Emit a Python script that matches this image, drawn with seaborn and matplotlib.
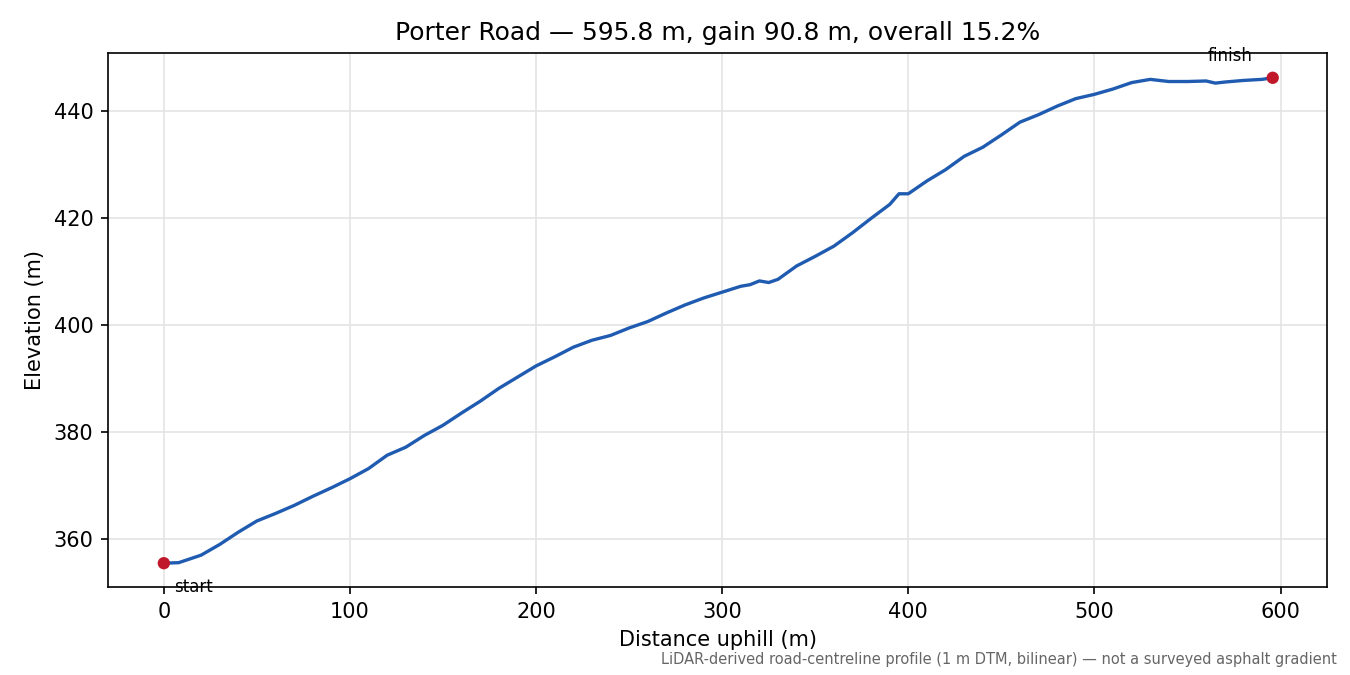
import numpy as np
import pandas as pd
import matplotlib
matplotlib.use('Agg')
import matplotlib.pyplot as plt
import seaborn as sns

# Profile (distance m, elevation m)
distance = [0, 8, 20, 30, 40, 50, 60, 70, 80, 90, 100, 110, 120, 130, 140, 150,
            160, 170, 180, 190, 200, 210, 220, 230, 240, 250, 260, 270, 280, 290,
            300, 310, 315, 320, 325, 330, 340, 350, 360, 370, 380, 390, 395, 400,
            410, 420, 430, 440, 450, 460, 470, 480, 490, 500, 510, 520, 530, 540,
            550, 560, 565, 570, 580, 590, 595.8]
elevation = [355.5, 355.6, 357.0, 359.0, 361.3, 363.4, 364.8, 366.3, 368.0, 369.6,
             371.3, 373.2, 375.7, 377.2, 379.4, 381.3, 383.6, 385.8, 388.2, 390.3,
             392.4, 394.1, 395.9, 397.2, 398.1, 399.5, 400.7, 402.3, 403.8, 405.1,
             406.2, 407.3, 407.6, 408.3, 408.0, 408.6, 411.1, 412.9, 414.8, 417.3,
             420.0, 422.6, 424.6, 424.6, 427.0, 429.1, 431.6, 433.3, 435.6, 438.0,
             439.4, 441.0, 442.4, 443.2, 444.2, 445.4, 446.0, 445.6, 445.6, 445.7,
             445.3, 445.5, 445.8, 446.0, 446.3]

df = pd.DataFrame({'distance': distance, 'elevation': elevation})
total = distance[-1]
gain = elevation[-1] - elevation[0]

plt.rcParams['font.family'] = ['DejaVu Sans']

fig, ax = plt.subplots(figsize=(9, 4.5), dpi=150)
sns.lineplot(data=df, x='distance', y='elevation', ax=ax, color='#1f5bb0', linewidth=1.6)
ends = df.iloc[[0, -1]]
sns.scatterplot(data=ends, x='distance', y='elevation', ax=ax, color='#c0182a',
                s=35, zorder=5, edgecolor='none')
ax.annotate('start', (distance[0], elevation[0]), xytext=(5, -14),
            textcoords='offset points', fontsize=8)
ax.annotate('finish', (distance[-1], elevation[-1]), xytext=(-31, 8),
            textcoords='offset points', fontsize=8)

ax.set_xlim(-30, 625)
ax.set_ylim(351, 451)
ax.grid(True, color='#e4e4e4', linewidth=0.8)
ax.set_xlabel('Distance uphill (m)')
ax.set_ylabel('Elevation (m)')
ax.set_title(f'Porter Road \u2014 {total:.1f} m, gain {gain:.1f} m, overall {gain / total * 100:.1f}%',
             fontsize=12)
fig.text(0.99, 0.012, 'LiDAR-derived road-centreline profile (1 m DTM, bilinear) \u2014 not a surveyed asphalt gradient',
         ha='right', va='bottom', fontsize=7, color='#666666')
fig.subplots_adjust(left=0.08, right=0.983, top=0.922, bottom=0.13)
fig.savefig('out.png', dpi=150)
